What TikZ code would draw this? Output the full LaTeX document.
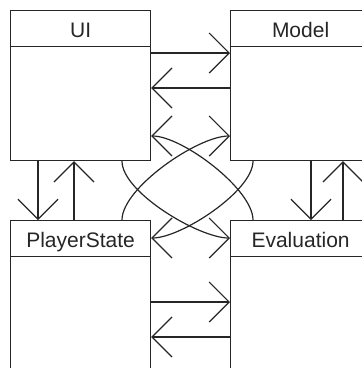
\documentclass[tikz,border=0pt]{standalone}
\usepackage{fontspec}
\setmainfont{Liberation Sans}
\usetikzlibrary{arrows.meta}

\begin{document}
\begin{tikzpicture}[x=1pt, y=1pt, line width=1.2pt, color=black!85,
    classbox/.style={draw, rectangle, anchor=north west, inner sep=0pt,
      minimum width=140pt, minimum height=150pt},
    classname/.style={draw, rectangle, anchor=north west, inner sep=0pt,
      minimum width=140pt, minimum height=36pt, text height=18pt, text depth=0pt,
      font=\fontsize{21}{21}\selectfont},
    link/.style={-{Straight Barb[length=20pt, width=40pt]}, line join=round}]
    \path[use as bounding box, clip] (0,0) rectangle (362,-368);

    % Draw classes
    \node[classbox] (ui) at (10,-10) {};
    \node[classname] (uiname) at (ui.north west) {UI};
    \node[classbox] (model) at (230,-10) {};
    \node[classname] (modelname) at (model.north west) {Model};
    \node[classbox] (player) at (10,-220) {};
    \node[classname] (playername) at (player.north west) {PlayerState};
    \node[classbox] (eval) at (230,-220) {};
    \node[classname] (evalname) at (eval.north west) {Evaluation};

    % Draw straight links
    \draw[link] ([yshift=-43pt]ui.north east) -- ([yshift=-43pt]model.north west);
    \draw[link] ([yshift=-78pt]model.north west) -- ([yshift=-78pt]ui.north east);
    \draw[link] ([xshift=28pt]ui.south west) -- ([xshift=28pt]player.north west);
    \draw[link] ([xshift=64pt]player.north west) -- ([xshift=64pt]ui.south west);
    \draw[link] ([xshift=81pt]model.south west) -- ([xshift=81pt]eval.north west);
    \draw[link] ([xshift=113pt]eval.north west) -- ([xshift=113pt]model.south west);
    \draw[link] ([yshift=-82pt]player.north east) -- ([yshift=-82pt]eval.north west);
    \draw[link] ([yshift=-117pt]eval.north west) -- ([yshift=-117pt]player.north east);

    % Draw crossing links
    \draw[link] ([xshift=23pt]eval.north west) to[out=90, in=0, looseness=0.6] ([yshift=-126pt]ui.north east);
    \draw[link] ([xshift=112pt]player.north west) to[out=90, in=180, looseness=0.6] ([yshift=-126pt]model.north west);
    \draw[link] ([xshift=112pt]ui.south west) to[out=-90, in=180, looseness=0.6] ([yshift=-18pt]eval.north west);
    \draw[link] ([xshift=23pt]model.south west) to[out=-90, in=0, looseness=0.6] ([yshift=-18pt]player.north east);
\end{tikzpicture}
\end{document}
